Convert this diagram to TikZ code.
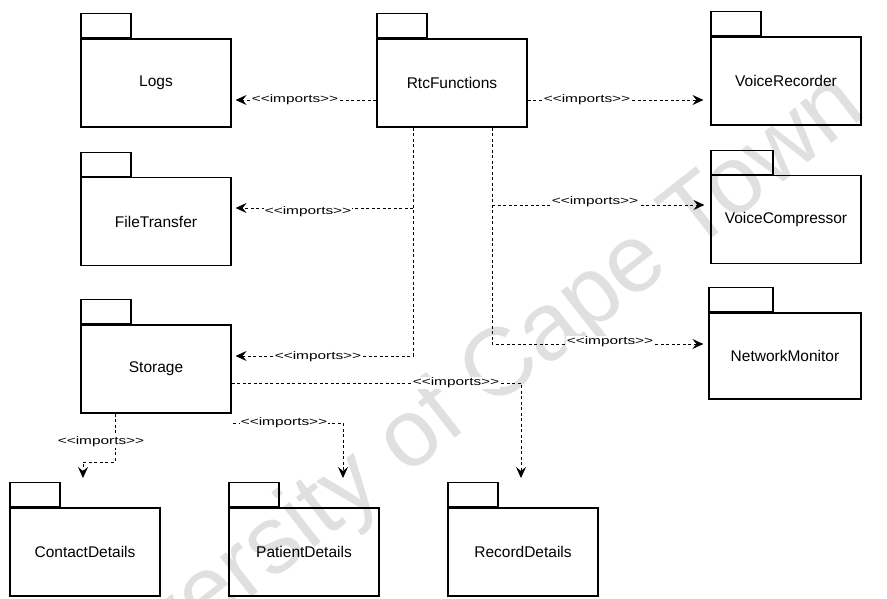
\documentclass[tikz,border=0pt]{standalone}
\usepackage{fontspec}
\setmainfont{Liberation Sans}
\newfontfamily\lblfont[FakeStretch=1.4]{Liberation Sans}
\usetikzlibrary{arrows.meta}
\begin{document}
\begin{tikzpicture}[x=1pt,y=-1pt,
  pkgbody/.style={draw, line width=1.1pt, minimum width=150pt, minimum height=88pt,
    inner sep=0pt, font=\fontsize{15.5}{18}\selectfont},
  pkgtab/.style={draw, line width=1.1pt, minimum width=50pt, minimum height=24pt,
    inner sep=0pt, anchor=south west},
  imp/.style={line width=1pt, dash pattern=on 3pt off 2.5pt},
  impar/.style={imp, -{Stealth[length=11pt,width=10pt,inset=4pt]}},
  lbl/.style={fill=white, inner sep=1pt, font=\lblfont\fontsize{11}{12}\selectfont}
]
\useasboundingbox (0,0) rectangle (887,598);
\fill[white] (0,0) rectangle (887,598);
\clip (0,0) rectangle (887,598);

% watermark
\node[rotate=38, text=black!12, font=\fontsize{96}{96}\selectfont] (wm) at (446,414)
  {University of Cape Town};

% packages
\node[pkgbody] (logs) at (156,83) {Logs};
\node[pkgtab] (logsT) at (logs.north west) {};
\node[pkgbody] (rtc) at (452,83) {RtcFunctions};
\node[pkgtab] (rtcT) at (rtc.north west) {};
\node[pkgbody] (vrec) at (786,81) {VoiceRecorder};
\node[pkgtab] (vrecT) at (vrec.north west) {};
\node[pkgbody] (ftr) at (156,221.5) {FileTransfer};
\node[pkgtab] (ftrT) at (ftr.north west) {};
\node[pkgbody] (vcomp) at (786,219.5) {VoiceCompressor};
\node[pkgtab, minimum width=62pt] (vcompT) at (vcomp.north west) {};
\node[pkgbody] (stor) at (156,369) {Storage};
\node[pkgtab] (storT) at (stor.north west) {};
\node[pkgbody, minimum width=152pt, minimum height=86pt] (nmon) at (785,356) {NetworkMonitor};
\node[pkgtab, minimum width=64pt] (nmonT) at (nmon.north west) {};
\node[pkgbody] (cdet) at (85,552) {ContactDetails};
\node[pkgtab] (cdetT) at (cdet.north west) {};
\node[pkgbody] (pdet) at (304,552) {PatientDetails};
\node[pkgtab] (pdetT) at (pdet.north west) {};
\node[pkgbody] (rdet) at (523,552) {RecordDetails};
\node[pkgtab] (rdetT) at (rdet.north west) {};

% bend points and free ends
\coordinate (y1) at (0,100);
\coordinate (tr1) at (492,344);
\coordinate (br1) at (492,205);
\coordinate (tl1) at (413,356);
\coordinate (bl1) at (413,208);
\coordinate (b5) at (521,383);
\coordinate (t5) at (521,478);
\coordinate (s6) at (233,423);
\coordinate (b6) at (343,423);
\coordinate (t6) at (343,478);
\coordinate (b7) at (115,462);
\coordinate (t7) at (83,478);

% import dependencies
\draw[impar, shorten >=4pt] (rtc.west |- y1) -- (logs.east |- y1);
\draw[impar, shorten >=7pt] (rtc.east |- y1) -- (vrec.west |- y1);
\draw[impar, shorten >=5pt] (rtc.south -| tr1) -- (tr1) -- (tr1 -| nmon.west);
\draw[impar, shorten >=6pt] (br1) -- (br1 -| vcomp.west);
\draw[impar, shorten >=4pt] (rtc.south -| tl1) -- (tl1) -- (tl1 -| stor.east);
\draw[impar, shorten >=4pt] (bl1) -- (bl1 -| ftr.east);
\draw[impar] (stor.east |- b5) -- (b5) -- (t5);
\draw[impar] (s6) -- (b6) -- (t6);
\draw[impar] (stor.south -| b7) -- (b7) -- (b7 -| t7) -- (t7);

% stereotype labels
\node[lbl] (l1) at (295,100) {<{}<imports>{}>};
\node[lbl] (l2) at (587,100) {<{}<imports>{}>};
\node[lbl] (l3) at (595,202) {<{}<imports>{}>};
\node[lbl] (l4) at (610,342) {<{}<imports>{}>};
\node[lbl] (l5) at (308,212) {<{}<imports>{}>};
\node[lbl] (l6) at (318,357) {<{}<imports>{}>};
\node[lbl] (l7) at (456,383) {<{}<imports>{}>};
\node[lbl] (l8) at (284,423) {<{}<imports>{}>};
\node[lbl] (l9) at (101,442) {<{}<imports>{}>};
\end{tikzpicture}
\end{document}
